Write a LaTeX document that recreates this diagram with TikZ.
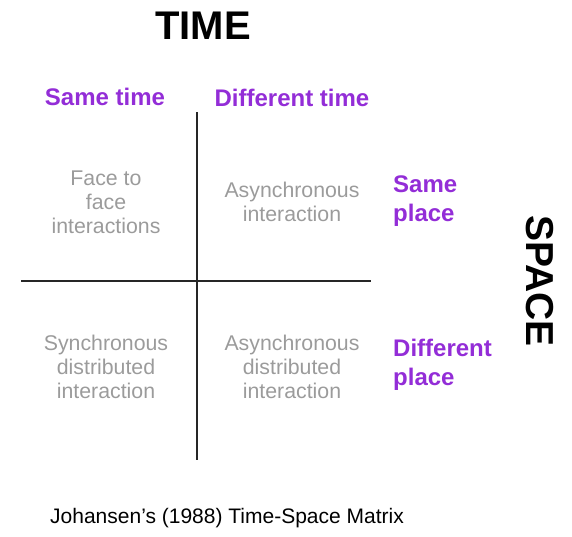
\documentclass[tikz,border=0pt]{standalone}
\usepackage{fontspec}
\setmainfont{Liberation Sans}
\usetikzlibrary{positioning}
\definecolor{headpurple}{RGB}{147,45,215}
\definecolor{cellgray}{RGB}{155,155,155}

\begin{document}
\begin{tikzpicture}[
        x=1pt, y=-1pt,
        axislabel/.style={font=\fontsize{40}{44}\selectfont\bfseries, inner sep=0pt},
        heading/.style={text=headpurple, font=\fontsize{24}{29}\selectfont\bfseries, inner sep=0pt},
        cell/.style={text=cellgray, align=center, font=\fontsize{21.3}{24}\selectfont, inner sep=0pt},
        divider/.style={draw=black!85, line width=1.3pt}
    ]
        \useasboundingbox (0,0) rectangle (572,536);

        % axis titles
        \node[axislabel] (time) at (203,26) {TIME};
        \node[axislabel, rotate=-90, font=\fontsize{39}{44}\selectfont\bfseries] (space) at (540,281) {SPACE};

        % column and row headings
        \node[heading] (sametime) at (105,97) {Same time};
        \node[heading] (difftime) at (292,98) {Different time};
        \node[heading, align=left, anchor=west] (sameplace) at (393,201) {Same\\ place};
        \node[heading, align=left, anchor=west] (diffplace) at (393,365) {Different\\ place};

        % the two dividing lines
        \coordinate (vtop) at (197,112);
        \coordinate (vbot) at (197,460);
        \coordinate (hleft) at (21,281);
        \coordinate (hright) at (371,281);
        \draw[divider] (vtop) -- (vbot);
        \draw[divider] (hleft) -- (hright);

        % quadrants
        \node[cell] (facetoface) at (106,202) {Face to\\ face\\ interactions};
        \node[cell] (async) at (292,202) {Asynchronous\\ interaction};
        \node[cell] (syncdist) at (106,367) {Synchronous\\ distributed\\ interaction};
        \node[cell] (asyncdist) at (292,367) {Asynchronous\\ distributed\\ interaction};

        \node[anchor=west, font=\fontsize{21}{24}\selectfont, inner sep=0pt] (caption) at (50,518) {Johansen’s (1988) Time-Space Matrix};
    \end{tikzpicture}
\end{document}
